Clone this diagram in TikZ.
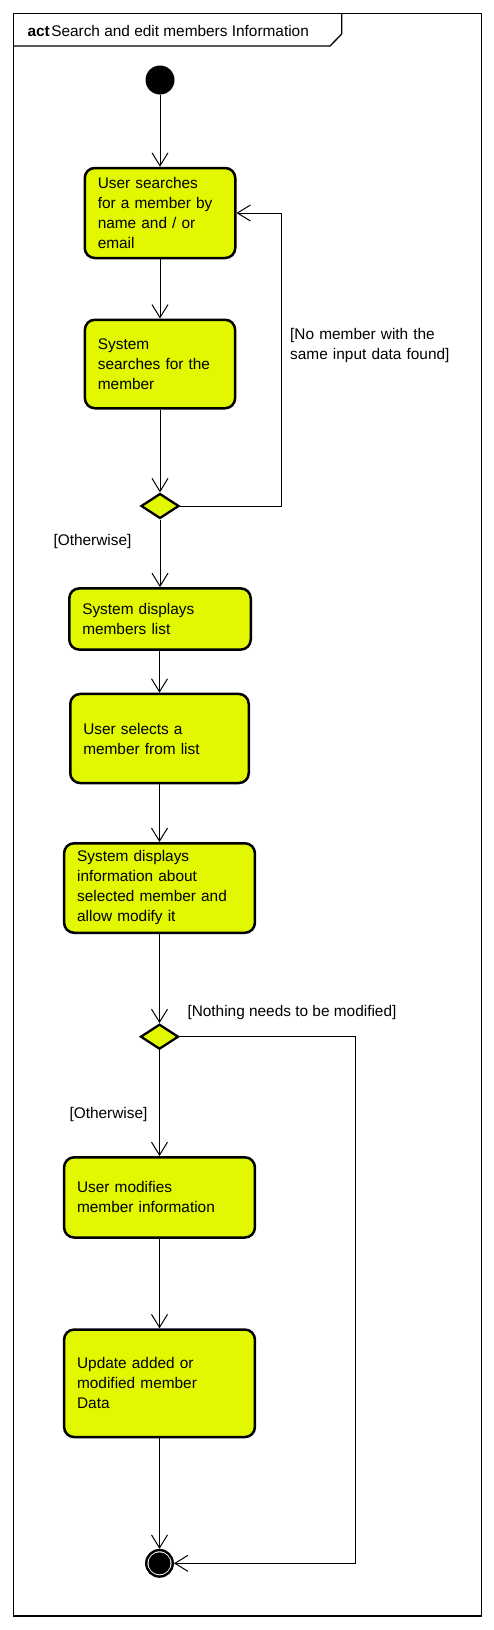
\documentclass[tikz,border=0pt]{standalone}
\usepackage{fontspec}
\setmainfont{Liberation Sans}
\usetikzlibrary{arrows.meta,shapes.geometric}
\definecolor{yel}{RGB}{226,248,0}
\begin{document}
\begin{tikzpicture}[x=1pt,y=-1pt,
  font=\fontsize{15.4}{20}\selectfont,
  actbox/.style={draw, line width=2.5pt, fill=yel, rounded corners=10pt,
    inner xsep=13pt, inner ysep=0pt, align=left},
  decis/.style={diamond, draw, line width=2.3pt, fill=yel, inner sep=0pt,
    minimum width=38pt, minimum height=25pt},
  arr/.style={line width=1pt, -{Straight Barb[length=13pt,width=16pt,line width=1pt]}},
  lbl/.style={inner sep=0pt, anchor=base west, align=left}]
\useasboundingbox (0,0) rectangle (494,1630);
% frame
\draw[line width=1.3pt] (13.5,13.5) rectangle (481.5,1616);
\draw[line width=1.3pt] (13.5,46) -- (330,46) -- (341.7,34) -- (341.7,13.5);
\node[lbl] (title) at (27.3,36) {\textbf{act}\hspace{1.5pt}Search and edit members Information};
% nodes
\node[circle, fill=black, minimum size=29pt, inner sep=0pt] (start) at (160,80) {};
\node[actbox, text width=124.5pt, minimum height=90pt] (b1) at (160,213)
  {User searches\\for a member by\\name and / or\\email};
\node[actbox, text width=124.2pt, minimum height=88.5pt] (b2) at (160,364)
  {System\\searches for the\\member};
\node[decis] (d1) at (160,506) {};
\node[actbox, text width=155.5pt, minimum height=61.2pt] (b3) at (160,619)
  {System displays\\members list};
\node[actbox, text width=152.5pt, minimum height=89.1pt] (b4) at (159.5,738.5)
  {User selects a\\member from list};
\node[actbox, text width=164.8pt, minimum height=89.5pt] (b5) at (159.5,888)
  {System displays\\information about\\selected member and\\allow modify it};
\node[decis] (d2) at (159.5,1036.7) {};
\node[actbox, text width=164.8pt, minimum height=80.2pt] (b6) at (159.5,1197.4)
  {User modifies\\member information};
\node[actbox, text width=164.8pt, minimum height=107.5pt] (b7) at (159.5,1383.3)
  {Update added or\\modified member\\Data};
\node[circle, draw, line width=2.4pt, fill=white, minimum size=26.5pt, inner sep=0pt,
  path picture={\fill[black] (path picture bounding box.center) circle (11pt);}]
  (end) at (159.5,1563.3) {};
% labels
\node[lbl, text width=175pt] (l1) at (290,339.3) {[No member with the\\same input data found]};
\node[lbl] (l2) at (53.3,545) {[Otherwise]};
\node[lbl] (l3) at (187.3,1016.7) {[Nothing needs to be modified]};
\node[lbl] (l4) at (69.3,1118) {[Otherwise]};
% connectors
\coordinate (r1) at (281,506);
\coordinate (r2) at (355.5,1036.7);
\draw[arr] (start) -- (b1);
\draw[arr] (b1) -- (b2);
\draw[arr] (b2) -- (d1);
\draw[arr] (d1.east) -- (r1) |- (b1.east);
\draw[arr] (d1) -- (b3);
\draw[arr] (b3.south -| b4) -- (b4);
\draw[arr] (b4) -- (b5);
\draw[arr] (b5) -- (d2);
\draw[arr] (d2) -- (b6);
\draw[arr] (d2.east) -- (r2) |- (end.east);
\draw[arr] (b6) -- (b7);
\draw[arr] (b7) -- (end);
\end{tikzpicture}
\end{document}
